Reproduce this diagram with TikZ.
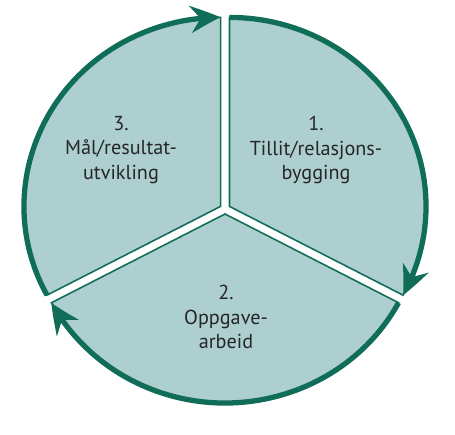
\documentclass[tikz,border=0pt]{standalone}
\usepackage{fontspec}
\setmainfont{PT Sans}
\usetikzlibrary{arrows.meta,bending}
\definecolor{ringgreen}{RGB}{16,110,88}
\definecolor{sectfill}{RGB}{174,207,208}

\begin{document}
\begin{tikzpicture}[font=\fontsize{11.5}{14}\selectfont,
  sect/.style={draw=ringgreen,line width=0.9pt,fill=sectfill},
  ring/.style={draw=ringgreen,line width=3pt,-{Stealth[length=6mm,width=5.4mm,inset=2mm,bend]}},
  lbl/.style={align=center,text=black!85}]
\useasboundingbox (0,0) rectangle (9.1,8.7);
\coordinate (c) at (4.5,4.52);
\def\R{3.78}
% sectors, each pushed a little outwards
\begin{scope}[shift={(c)},xscale=1.04]
\draw[sect,shift={(31:0.1)}] (0,0) -- (-28:\R) arc[start angle=-28,end angle=90,radius=\R] -- cycle;
\draw[sect,shift={(270:0.1)}] (0,0) -- (208:\R) arc[start angle=208,end angle=332,radius=\R] -- cycle;
\draw[sect,shift={(149:0.1)}] (0,0) -- (90:\R) arc[start angle=90,end angle=208,radius=\R] -- cycle;
% arrows round the rim
\draw[ring,shift={(31:0.1)}] (90:\R) arc[start angle=90,end angle=-28,radius=\R];
\draw[ring,shift={(270:0.1)}] (332:\R) arc[start angle=332,end angle=208,radius=\R];
\draw[ring,shift={(149:0.1)}] (208:\R) arc[start angle=208,end angle=90,radius=\R];
\end{scope}
\node[lbl] (tillit) at (6.32,5.7) {1.\\Tillit/relasjons-\\bygging};
\node[lbl] (oppgave) at (4.52,2.36) {2.\\Oppgave-\\arbeid};
\node[lbl] (maal) at (2.42,5.7) {3.\\Mål/resultat-\\utvikling};
\end{tikzpicture}
\end{document}
